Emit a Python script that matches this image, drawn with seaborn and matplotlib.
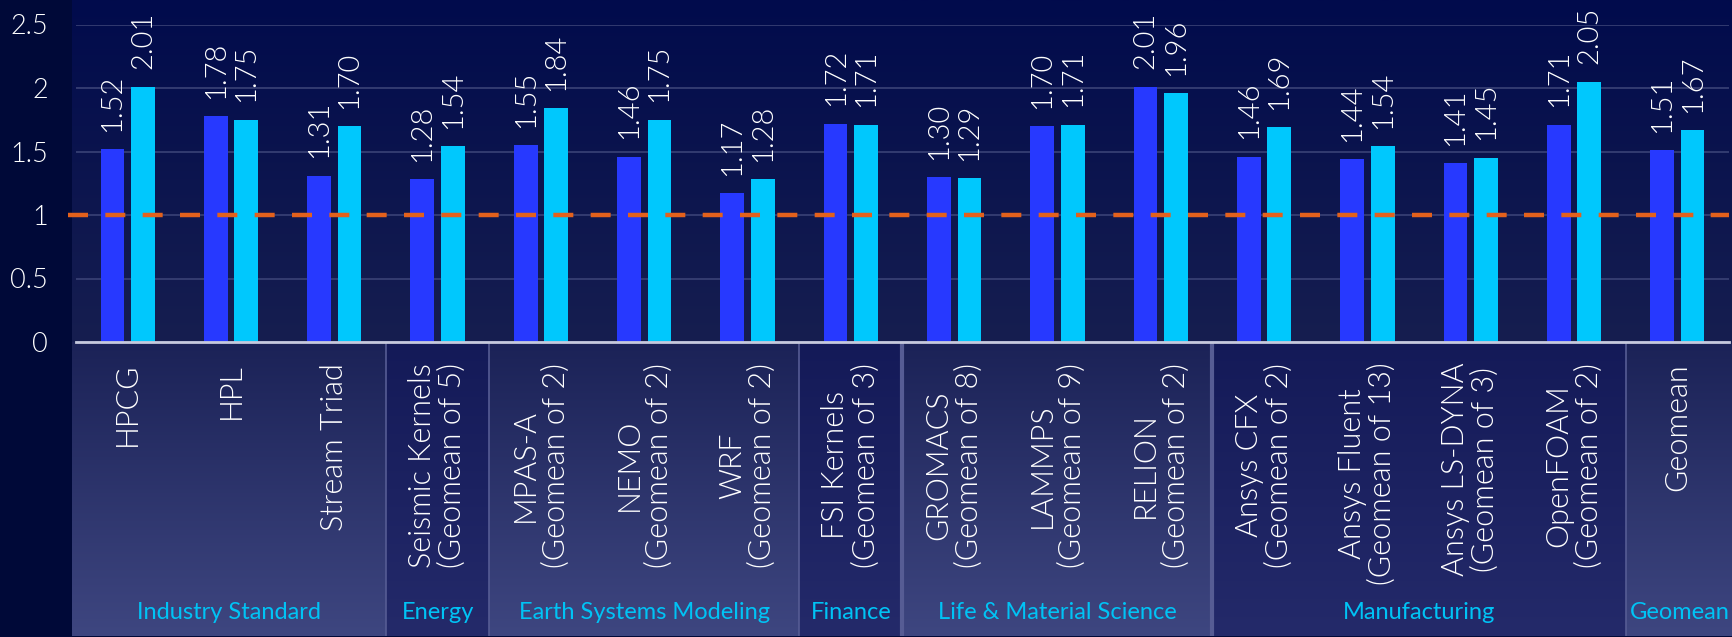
import numpy as np
import pandas as pd
import matplotlib
matplotlib.use("Agg")
import matplotlib.pyplot as plt
from matplotlib.colors import to_rgb
import seaborn as sns

# ---------------- data ----------------
categories = [
    "HPCG", "HPL", "Stream Triad",
    "Seismic Kernels\n(Geomean of 5)",
    "MPAS-A\n(Geomean of 2)", "NEMO\n(Geomean of 2)", "WRF\n(Geomean of 2)",
    "FSI Kernels\n(Geomean of 3)",
    "GROMACS\n(Geomean of 8)", "LAMMPS\n(Geomean of 9)", "RELION\n(Geomean of 2)",
    "Ansys CFX\n(Geomean of 2)", "Ansys Fluent\n(Geomean of 13)",
    "Ansys LS-DYNA\n(Geomean of 3)", "OpenFOAM\n(Geomean of 2)",
    "Geomean",
]
series_a = [1.52, 1.78, 1.31, 1.28, 1.55, 1.46, 1.17, 1.72, 1.30, 1.70, 2.01,
            1.46, 1.44, 1.41, 1.71, 1.51]
series_b = [2.01, 1.75, 1.70, 1.54, 1.84, 1.75, 1.28, 1.71, 1.29, 1.71, 1.96,
            1.69, 1.54, 1.45, 2.05, 1.67]
group_names = ["Industry Standard", "Energy", "Earth Systems Modeling", "Finance",
               "Life & Material Science", "Manufacturing", "Geomean"]
group_sizes = [3, 1, 3, 1, 3, 4, 1]
baseline = 1.0
y_ticks = [0, 0.5, 1, 1.5, 2, 2.5]

# ---------------- styling ----------------
BLUE = "#2739ff"
CYAN = "#00c8fd"
ORANGE = "#e3611c"
FIG_BG = "#000938"
LABEL_CYAN = "#00c3f5"
main_font = ["Lato", "DejaVu Sans"]
group_font = ["Lato", "DejaVu Sans"]
TEXT_W = 300

sns.set_style("white")
plt.rcParams["font.family"] = main_font

W, H = 1733, 637
fig = plt.figure(figsize=(W / 100, H / 100), dpi=100, facecolor=FIG_BG)

def px(x0, y0_top, x1, y1_top):
    """figure-fraction rect from pixel box (top-origin)"""
    return [x0 / W, 1 - y1_top / H, (x1 - x0) / W, (y1_top - y0_top) / H]

# background gradient for the plot panel
ax_bg = fig.add_axes(px(72, 0, W, 342), zorder=0)
top_c = np.array(to_rgb("#010b4c"))
bot_c = np.array(to_rgb("#161e50"))
t = np.linspace(0, 1, 256)[:, None, None]
grad = top_c * (1 - t) + bot_c * t
ax_bg.imshow(grad, aspect="auto", extent=(0, 1, 0, 1), origin="upper")
ax_bg.set_axis_off()

# band axes (group labels) below the plot
n = len(categories)
unit = (1729 - 76) / n
ext = 4 / unit
xmin, xmax = -0.5 - ext, n - 0.5 + ext
ax_band = fig.add_axes(px(72, 342, W, 636), zorder=1)
ax_band.set_axis_off()

light = (np.array(to_rgb("#1b2257")), np.array(to_rgb("#3e4680")))
dark = (np.array(to_rgb("#141a58")), np.array(to_rgb("#242a6a")))
edges = np.concatenate([[0], np.cumsum(group_sizes)]) - 0.5
for i, (name, size) in enumerate(zip(group_names, group_sizes)):
    x0 = edges[i] if i > 0 else xmin
    x1 = edges[i + 1] if i < len(group_sizes) - 1 else xmax
    c_top, c_bot = light if i % 2 == 0 else dark
    g = c_top * (1 - t) + c_bot * t
    ax_band.imshow(g, aspect="auto", extent=(x0, x1, 0, 1), origin="upper")
    ax_band.text((x0 + x1) / 2, 0.08, name, color=LABEL_CYAN, fontsize=17,
                 family=group_font, ha="center", va="center", clip_on=False)
    if i > 0:
        lw = 3 if name in ("Life & Material Science", "Manufacturing") else 1.2
        ax_band.axvline(x0, color="#565c94", lw=lw)
ax_band.set_xlim(xmin, xmax)
ax_band.set_ylim(0, 1)

# main axes
ax = fig.add_axes(px(76, 24.5, 1729, 342), zorder=2)
ax.patch.set_alpha(0)

df = pd.DataFrame({
    "category": categories * 2,
    "value": series_a + series_b,
    "series": ["A"] * n + ["B"] * n,
})
sns.barplot(data=df, x="category", y="value", hue="series", order=categories,
            palette=[BLUE, CYAN], width=0.59, gap=0.22, saturation=1,
            legend=False, ax=ax, zorder=3, linewidth=0, edgecolor="none")

for cont in ax.containers:
    ax.bar_label(cont, fmt="%.2f", rotation=90, padding=12.5, color="white",
                 fontsize=21, fontweight=TEXT_W, clip_on=False)

ax.axhline(baseline, xmin=-0.005, xmax=1, color=ORANGE, lw=3.2,
           linestyle=(0, (4.5, 3.9)), clip_on=False, zorder=4)

ax.set_xlim(-0.5, n - 0.5)
ax.set_ylim(0, 2.5)
ax.set_yticks(y_ticks)
ax.set_yticklabels([f"{v:g}" for v in y_ticks])
ax.yaxis.grid(True, color="#3a4276", lw=1.2, zorder=0)
ax.set_axisbelow(True)
ax.set_xlabel("")
ax.set_ylabel("")
for s in ("top", "right", "left"):
    ax.spines[s].set_visible(False)
ax.spines["bottom"].set_color("#c6c9dd")
ax.spines["bottom"].set_linewidth(2)
ax.spines["bottom"].set_zorder(5)
ax.tick_params(axis="y", length=0, pad=20, labelsize=19.5, labelcolor="white")
ax.tick_params(axis="x", length=0, pad=15, labelsize=22, labelcolor="white")
for lab in ax.get_xticklabels():
    lab.set_rotation(90)
    lab.set_ha("center")
    lab.set_va("top")
    lab.set_multialignment("center")
    lab.set_fontweight(TEXT_W)
    lab.set_linespacing(1.05)
for lab in ax.get_yticklabels():
    lab.set_fontweight(TEXT_W)

fig.savefig("out.png", dpi=100, facecolor=FIG_BG)
